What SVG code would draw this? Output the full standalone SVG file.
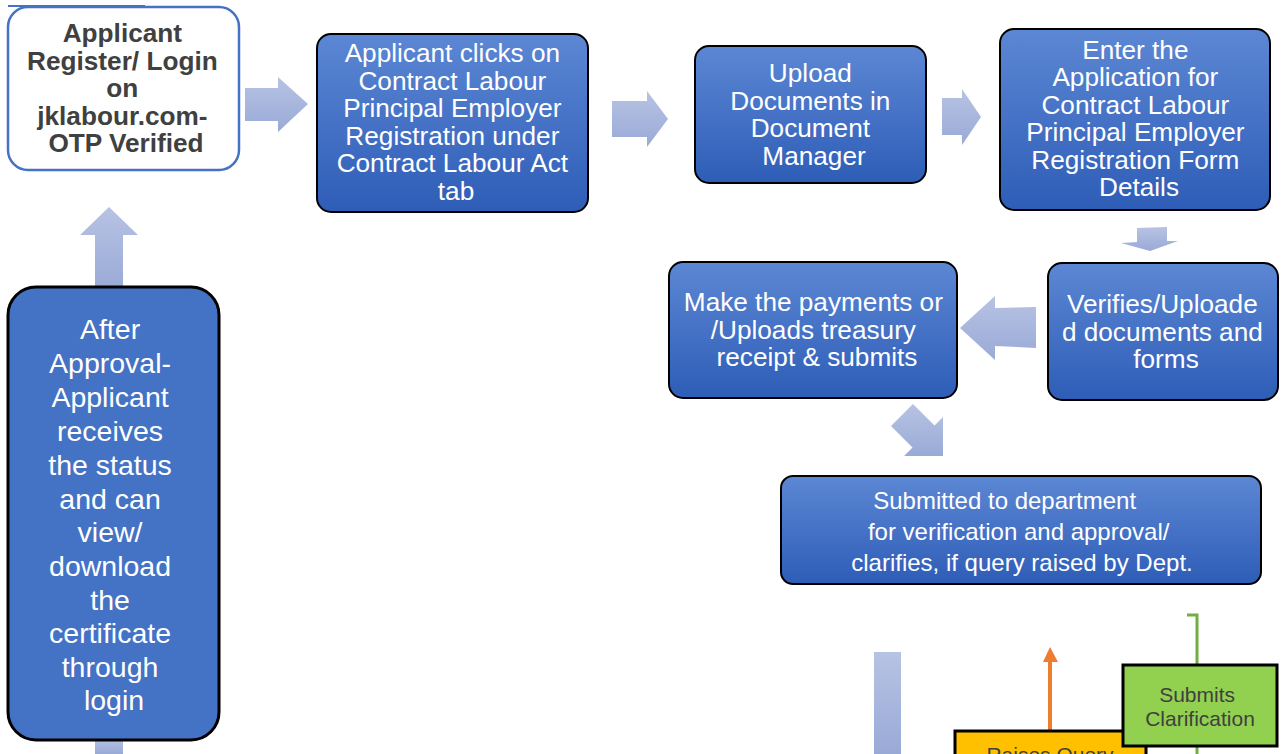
<svg xmlns="http://www.w3.org/2000/svg" width="1288" height="754" viewBox="0 0 1288 754">
  <defs>
    <linearGradient id="boxFill" x1="0" y1="0" x2="0" y2="1">
      <stop offset="0" stop-color="#5C87D4"/>
      <stop offset="1" stop-color="#2E5DB7"/>
    </linearGradient>
    <linearGradient id="arrowFill" x1="0" y1="0" x2="0" y2="1">
      <stop offset="0" stop-color="#B7C3E4"/>
      <stop offset="1" stop-color="#99AAD6"/>
    </linearGradient>
    <style>
      .step { fill: url(#boxFill); stroke: #000; stroke-width: 2; }
      .lbl { font-family: "Liberation Sans", Arial, sans-serif; fill: #fff; text-anchor: middle; }
      .big { font-size: 26.2px; }
      .dark { fill: #404040; }
      .flow { fill: url(#arrowFill); }
    </style>
  </defs>

  <!-- connectors -->
  <g id="connectors">
    <polygon class="flow" points="245,88 278,88 278,77 308,104 278,132 278,121 245,121"/>
    <polygon class="flow" points="612,101 647,101 647,91 668,119 647,147 647,137 612,137"/>
    <polygon class="flow" points="942,98 962,98 962,89 981,117 962,145 962,135 942,135"/>
    <polygon class="flow" points="1137,228 1167,227 1167,241 1178,241 1150,251 1121,243 1137,242"/>
    <polygon class="flow" points="1036,307 1036,348 995,346 995,360 960,328 995,296 995,308"/>
    <polygon class="flow" points="913,404 934.5,425.5 943,417 943,456 904,456 912.5,447.5 891,426"/>
    <polygon class="flow" points="95,290 95,235 80,235 109,207 138,235 123,235 123,290"/>
    <rect class="flow" x="95" y="738" width="28" height="16"/>
    <rect class="flow" x="874" y="652" width="27" height="102"/>
    <line x1="1050" y1="731" x2="1050" y2="660" stroke="#ED7D31" stroke-width="4"/>
    <polygon points="1043,662 1050,647 1058,662" fill="#ED7D31"/>
    <polyline points="1187,615 1197,615 1197,754" fill="none" stroke="#70AD47" stroke-width="3"/>
  </g>

  <g id="login">
    <line x1="8" y1="6" x2="145" y2="6" stroke="#4472C4" stroke-width="2"/>
    <rect x="8" y="7" width="231" height="163" rx="20" fill="#fff" stroke="#4472C4" stroke-width="2.5"/>
    <text class="lbl dark big" font-weight="bold">
      <tspan x="126" y="42">Applicant</tspan>
      <tspan x="126" y="69.5">Register/ Login</tspan>
      <tspan x="126" y="97">on</tspan>
      <tspan x="126" y="124.5">jklabour.com-</tspan>
      <tspan x="126" y="152">OTP Verified</tspan>
    </text>
  </g>

  <g id="select-act">
    <rect class="step" x="317" y="34" width="271" height="178" rx="14"/>
    <text class="lbl big">
      <tspan x="456" y="62">Applicant clicks on</tspan>
      <tspan x="456" y="89.5">Contract Labour</tspan>
      <tspan x="456" y="117">Principal Employer</tspan>
      <tspan x="456" y="144.5">Registration under</tspan>
      <tspan x="456" y="172">Contract Labour Act</tspan>
      <tspan x="456" y="199.5">tab</tspan>
    </text>
  </g>

  <g id="upload-docs">
    <rect class="step" x="695" y="46" width="231" height="137" rx="14"/>
    <text class="lbl big">
      <tspan x="814" y="82">Upload</tspan>
      <tspan x="814" y="109.5">Documents in</tspan>
      <tspan x="814" y="137">Document</tspan>
      <tspan x="814" y="164.5">Manager</tspan>
    </text>
  </g>

  <g id="enter-form">
    <rect class="step" x="1000" y="29" width="270" height="181" rx="14"/>
    <text class="lbl big">
      <tspan x="1139" y="59">Enter the</tspan>
      <tspan x="1139" y="86.4">Application for</tspan>
      <tspan x="1139" y="113.8">Contract Labour</tspan>
      <tspan x="1139" y="141.2">Principal Employer</tspan>
      <tspan x="1139" y="168.6">Registration Form</tspan>
      <tspan x="1139" y="196">Details</tspan>
    </text>
  </g>

  <g id="verify">
    <rect class="step" x="1048" y="263" width="230" height="137" rx="14"/>
    <text class="lbl big">
      <tspan x="1166" y="313">Verifies/Uploade</tspan>
      <tspan x="1166" y="340.5">d documents and</tspan>
      <tspan x="1166" y="368">forms</tspan>
    </text>
  </g>

  <g id="payment">
    <rect class="step" x="669" y="262" width="288" height="136" rx="14"/>
    <text class="lbl big">
      <tspan x="817" y="311">Make the payments or</tspan>
      <tspan x="817" y="338.5">/Uploads treasury</tspan>
      <tspan x="817" y="366">receipt &amp; submits</tspan>
    </text>
  </g>

  <g id="submitted">
    <rect class="step" x="781" y="476" width="480" height="108" rx="12"/>
    <text class="lbl" font-size="24">
      <tspan x="1008" y="508.5">Submitted to department</tspan>
      <tspan x="1022" y="539.5">for verification and approval/</tspan>
      <tspan x="1022" y="570.5">clarifies, if query raised by Dept.</tspan>
    </text>
  </g>

  <g id="approval">
    <rect x="8" y="287" width="211" height="453" rx="28" fill="#4472C4" stroke="#000" stroke-width="3"/>
    <text class="lbl" font-size="28.5">
      <tspan x="114" y="339">After</tspan>
      <tspan x="114" y="373">Approval-</tspan>
      <tspan x="114" y="407">Applicant</tspan>
      <tspan x="114" y="441">receives</tspan>
      <tspan x="114" y="475">the status</tspan>
      <tspan x="114" y="509">and can</tspan>
      <tspan x="114" y="542">view/</tspan>
      <tspan x="114" y="576">download</tspan>
      <tspan x="114" y="610">the</tspan>
      <tspan x="114" y="643">certificate</tspan>
      <tspan x="114" y="677">through</tspan>
      <tspan x="114" y="710">login</tspan>
    </text>
  </g>

  <g id="raises-query">
    <rect x="955" y="731" width="191" height="40" fill="#FFC000" stroke="#000" stroke-width="3"/>
    <text class="lbl dark" font-size="21" x="1050" y="762">Raises Query</text>
  </g>

  <g id="submits-clarification">
    <rect x="1123" y="665" width="154" height="81" fill="#92D050" stroke="#000" stroke-width="3"/>
    <text class="lbl dark" font-size="21">
      <tspan x="1200" y="702">Submits</tspan>
      <tspan x="1200" y="726">Clarification</tspan>
    </text>
  </g>
</svg>
